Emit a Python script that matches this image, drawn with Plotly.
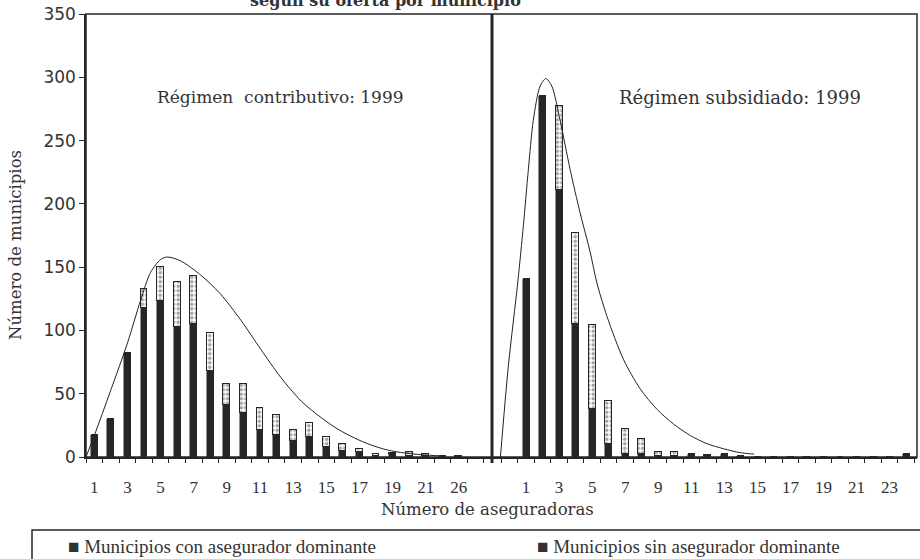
import plotly.graph_objects as go

# ---------------- data ----------------
left_categories = [str(i) for i in range(1, 22)] + ["22", "26"]
left_tick_labels = ["1", "3", "5", "7", "9", "11", "13", "15", "17", "19", "21", "26"]
left_dominant = [17, 30, 82, 118, 123, 103, 105, 68, 41, 35, 21, 17, 13, 16, 8, 5, 4, 1, 2, 1, 1, 1, 0]
left_total = [17, 30, 82, 133, 150, 138, 143, 98, 58, 58, 39, 33, 21, 27, 16, 10, 6, 2, 3, 4, 2, 1, 1]

right_categories = [str(i) for i in range(1, 25)]
right_tick_labels = ["1", "3", "5", "7", "9", "11", "13", "15", "17", "19", "21", "23"]
right_dominant = [141, 285, 211, 105, 38, 10, 2, 2, 1, 1, 2, 1, 2, 1, 0, 0, 0, 0, 0, 0, 0, 0, 0, 2]
right_total = [141, 285, 277, 177, 104, 44, 22, 14, 4, 4, 2, 1.5, 2, 1, 0, 0, 0, 0, 0, 0, 0, 0, 0, 2]

# fitted curves (position in category slots, value)
left_curve_pos = [-0.5, 0.0, 1.0, 2.0, 2.8, 3.4, 4.0, 4.4, 5.2, 6.4, 7.6, 8.85, 10.05, 11.25, 12.5,
                  13.7, 14.7, 15.7, 16.7, 17.7, 18.7, 19.75, 21.0]
left_curve_val = [0, 17, 53, 90, 124, 146, 156, 158, 155, 144, 129, 108, 85, 63, 44,
                  31, 22, 15, 9.5, 5.5, 3.2, 1.8, 0.8]
right_curve_pos = [-1.55, -1.07, -0.5, -0.16, 0.14, 0.44, 0.85, 1.2, 1.56, 2.06, 2.67, 3.27, 3.88,
                   4.28, 4.9, 5.9, 6.9, 7.9, 8.93, 9.94, 10.95, 11.96, 12.97, 13.8]
right_curve_val = [0, 72, 138, 183, 227, 266, 293, 299, 293, 266, 227, 193, 162,
                   138, 111, 77, 54, 38, 26, 17, 10.5, 6.5, 3.4, 2.3]

y_ticks = [0, 50, 100, 150, 200, 250, 300, 350]

# ---------------- layout geometry ----------------
W, H = 920, 559
L, R, T, B = 86, 3, 14, 102
PW, PH = W - L - R, H - T - B
SPLIT_PX = 492


def px2x(px):
    return (px - L) / PW


def px2y(py):
    return (H - B - py) / PH


split = px2x(SPLIT_PX)

DARK = "#262626"
TXT = "#333333"
SERIF = "DejaVu Serif"
NSERIF = "Liberation Serif"

fig = go.Figure()


def add_panel(cats, dom, tot, cpos, cval, xa):
    pos = list(range(len(cats)))
    rest = [t - d for t, d in zip(tot, dom)]
    fig.add_trace(go.Bar(x=pos, y=dom, xaxis=xa, yaxis="y", width=0.42,
                         marker=dict(color=DARK, line=dict(color=DARK, width=0.5)),
                         showlegend=False, hoverinfo="y"))
    fig.add_trace(go.Bar(x=pos, y=rest, xaxis=xa, yaxis="y", width=0.42,
                         marker=dict(color="white", line=dict(color=DARK, width=1),
                                     pattern=dict(shape=".", fgcolor="#4a4a4a", bgcolor="white",
                                                  size=4.5, solidity=0.5)),
                         showlegend=False, hoverinfo="y"))
    fig.add_trace(go.Scatter(x=cpos, y=cval, xaxis=xa, yaxis="y", mode="lines",
                             line=dict(color="#222", width=1, shape="spline", smoothing=0.8),
                             showlegend=False, hoverinfo="skip"))


add_panel(left_categories, left_dominant, left_total, left_curve_pos, left_curve_val, "x")
add_panel(right_categories, right_dominant, right_total, right_curve_pos, right_curve_val, "x2")

left_tickvals = [i for i, c in enumerate(left_categories) if c in left_tick_labels]
left_ticktext = [left_categories[i] for i in left_tickvals]
right_tickvals = [i for i, c in enumerate(right_categories) if c in right_tick_labels]
right_ticktext = [right_categories[i] for i in right_tickvals]

xcommon = dict(showgrid=False, zeroline=False, showline=True, linecolor=DARK, linewidth=1.5,
               ticks="outside", ticklen=14, tickcolor="rgba(0,0,0,0)",
               tickfont=dict(family=NSERIF, size=17, color=TXT),
               minor=dict(ticks="outside", ticklen=4, tick0=0.5, dtick=1, tickcolor=DARK, tickwidth=1),
               tickmode="array", fixedrange=True)

fig.update_layout(
    width=W, height=H,
    margin=dict(l=L, r=R, t=T, b=B),
    paper_bgcolor="white", plot_bgcolor="white",
    barmode="stack", bargap=0,
    xaxis=dict(domain=[0, split], range=[-0.5, 24.0], tickvals=left_tickvals,
               ticktext=left_ticktext, anchor="y", **xcommon),
    xaxis2=dict(domain=[split, 1], range=[-2.06, 23.66], tickvals=right_tickvals,
                ticktext=right_ticktext, anchor="y", **xcommon),
    yaxis=dict(range=[0, 350], tickvals=y_ticks, showgrid=False, zeroline=False,
               showline=True, linecolor=DARK, linewidth=1.5, ticks="outside", ticklen=5,
               tickcolor=DARK, ticksuffix="\u00a0", automargin=False,
               tickfont=dict(family="DejaVu Sans", size=17, color=TXT),
               fixedrange=True),
    shapes=[
        dict(type="rect", xref="paper", yref="paper", x0=0, x1=1, y0=0, y1=1,
             line=dict(color=DARK, width=1.5)),
        dict(type="line", xref="paper", yref="paper", x0=split, x1=split, y0=px2y(463), y1=1,
             line=dict(color=DARK, width=3)),
        dict(type="rect", xref="paper", yref="paper", x0=px2x(32), x1=px2x(930),
             y0=px2y(575), y1=px2y(530), line=dict(color=DARK, width=1.5)),
    ],
    annotations=[
        dict(text="Régimen  contributivo: 1999", xref="paper", yref="paper",
             x=px2x(280), y=px2y(97), xanchor="center", yanchor="middle", showarrow=False,
             font=dict(family=SERIF, size=17, color=TXT)),
        dict(text="Régimen subsidiado: 1999", xref="paper", yref="paper",
             x=px2x(740), y=px2y(97), xanchor="center", yanchor="middle", showarrow=False,
             font=dict(family=SERIF, size=18, color=TXT)),
        dict(text="Número de aseguradoras", xref="paper", yref="paper",
             x=px2x(487), y=px2y(509), xanchor="center", yanchor="middle", showarrow=False,
             font=dict(family=SERIF, size=16.5, color=TXT)),
        dict(text="Número de municipios", xref="paper", yref="paper", textangle=-90,
             x=px2x(15), y=px2y(245), xanchor="center", yanchor="middle", showarrow=False,
             font=dict(family=SERIF, size=16.5, color=TXT)),
        dict(text="<b>según su oferta por municipio</b>", xref="paper", yref="paper",
             x=px2x(385), y=px2y(1), xanchor="center", yanchor="middle", showarrow=False,
             font=dict(family=SERIF, size=16, color=TXT)),
        dict(text="■ Municipios con asegurador dominante", xref="paper", yref="paper",
             x=px2x(66), y=px2y(546), xanchor="left", yanchor="middle", showarrow=False,
             font=dict(family=NSERIF, size=19, color=TXT)),
        dict(text="■ Municipios sin asegurador dominante", xref="paper", yref="paper",
             x=px2x(535), y=px2y(546), xanchor="left", yanchor="middle", showarrow=False,
             font=dict(family=NSERIF, size=19, color=TXT)),
    ],
)

fig.write_html("out.html", config={"displayModeBar": False},
               post_script="document.body.style.margin='0';")
